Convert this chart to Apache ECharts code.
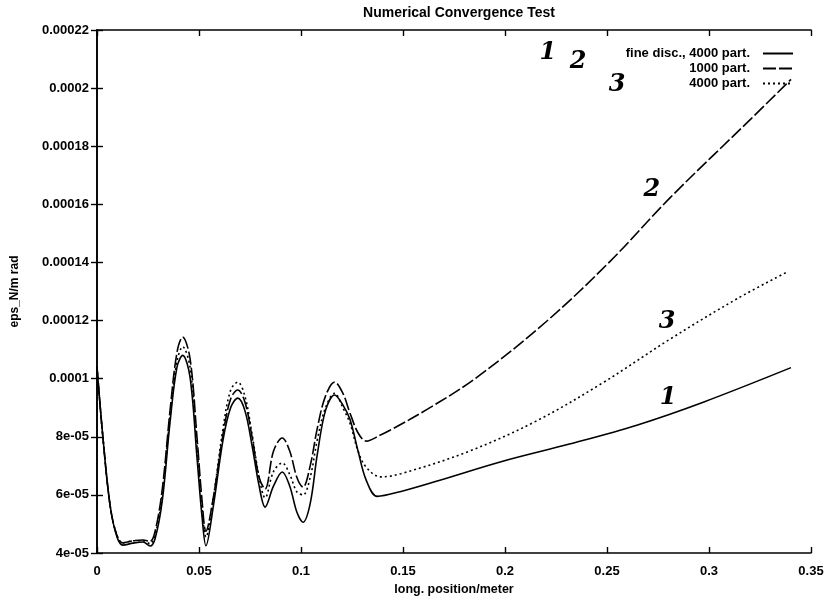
<!DOCTYPE html>
<html>
<head>
<meta charset="utf-8">
<script src="https://cdn.jsdelivr.net/npm/echarts@6/dist/echarts.min.js"></script>
<style>html,body{margin:0;padding:0;background:#fff}#c{width:831px;height:602px}</style>
</head>
<body>
<div id="c"></div>
<script>
// ---- data ----
var seriesNames = ['fine disc., 4000 part.', '1000 part.', '4000 part.'];

// common x positions over the oscillating region (m)
var xOsc = [0, 0.003, 0.0065, 0.0098, 0.0127, 0.0176, 0.0225, 0.026, 0.0285, 0.032, 0.0358, 0.0392, 0.042, 0.0456, 0.049, 0.0515, 0.0534, 0.057, 0.0618, 0.0655, 0.069, 0.0725, 0.076, 0.0795, 0.0824, 0.0865, 0.0908, 0.0945, 0.098, 0.101, 0.1045, 0.108, 0.112, 0.1165, 0.1205, 0.124, 0.128, 0.132];

// curve 1: fine disc., 4000 part. (solid)
var y1Osc = [10.4e-5, 7.9e-5, 5.6e-5, 4.55e-5, 4.27e-5, 4.34e-5, 4.38e-5, 4.24e-5, 4.5e-5, 5.8e-5, 8.5e-5, 10.4e-5, 10.8e-5, 10.05e-5, 7.3e-5, 5.24e-5, 4.25e-5, 5.6e-5, 7.9e-5, 9.0e-5, 9.33e-5, 8.9e-5, 7.7e-5, 6.3e-5, 5.58e-5, 6.3e-5, 6.79e-5, 6.3e-5, 5.4e-5, 5.06e-5, 5.7e-5, 7.4e-5, 8.9e-5, 9.44e-5, 9.1e-5, 8.6e-5, 7.5e-5, 6.5e-5];
var x1Tail = [0.1374, 0.149, 0.1655, 0.1985, 0.2316, 0.2646, 0.2975, 0.3402];
var y1Tail = [5.95e-5, 6.12e-5, 6.45e-5, 7.15e-5, 7.75e-5, 8.4e-5, 9.2e-5, 10.38e-5];

// curve 2: 1000 part. (dashed)
var y2Osc = [10.4e-5, 7.9e-5, 5.6e-5, 4.6e-5, 4.35e-5, 4.42e-5, 4.45e-5, 4.4e-5, 4.75e-5, 6.2e-5, 8.9e-5, 10.9e-5, 11.43e-5, 10.7e-5, 8.0e-5, 5.8e-5, 4.75e-5, 5.9e-5, 8.1e-5, 9.3e-5, 9.61e-5, 9.2e-5, 8.0e-5, 6.6e-5, 6.2e-5, 7.5e-5, 7.96e-5, 7.5e-5, 6.6e-5, 6.27e-5, 7.0e-5, 8.3e-5, 9.4e-5, 9.88e-5, 9.5e-5, 8.82e-5, 8.13e-5, 7.85e-5];
var x2Tail = [0.1387, 0.1441, 0.162, 0.1853, 0.22, 0.2514, 0.2811, 0.3207, 0.3402];
var y2Tail = [8.05e-5, 8.24e-5, 8.95e-5, 10.0e-5, 11.95e-5, 14.03e-5, 16.24e-5, 18.95e-5, 20.3e-5];

// curve 3: 4000 part. (dotted)
var y3Osc = [10.4e-5, 7.9e-5, 5.6e-5, 4.6e-5, 4.35e-5, 4.42e-5, 4.42e-5, 4.32e-5, 4.6e-5, 6.0e-5, 8.7e-5, 10.6e-5, 11.1e-5, 10.4e-5, 7.7e-5, 5.5e-5, 4.55e-5, 5.9e-5, 8.3e-5, 9.6e-5, 9.88e-5, 9.4e-5, 8.1e-5, 6.6e-5, 5.9e-5, 6.8e-5, 7.1e-5, 6.7e-5, 6.1e-5, 6.0e-5, 6.6e-5, 7.9e-5, 9.0e-5, 9.5e-5, 9.0e-5, 8.47e-5, 7.5e-5, 6.95e-5];
var x3Tail = [0.1391, 0.149, 0.182, 0.215, 0.248, 0.2811, 0.314, 0.3388];
var y3Tail = [6.62e-5, 6.73e-5, 7.49e-5, 8.53e-5, 9.86e-5, 11.37e-5, 12.76e-5, 13.69e-5];

// axis ticks
var xTickLabels = ['0', '0.05', '0.1', '0.15', '0.2', '0.25', '0.3', '0.35'];
var yTickLabels = ['4e-05', '6e-05', '8e-05', '0.0001', '0.00012', '0.00014', '0.00016', '0.00018', '0.0002', '0.00022'];

// hand-written annotations: [text, x, y] in data units
var notes = [['1', 0.221, 21.2e-5], ['2', 0.2358, 20.9e-5], ['3', 0.2549, 20.1e-5], ['2', 0.272, 16.49e-5], ['3', 0.2794, 11.95e-5], ['1', 0.28, 9.33e-5]];

// ---- build ----
function pairs(xs, ys) { var o = []; for (var i = 0; i < xs.length; i++) o.push([xs[i], ys[i]]); return o; }
var d1 = pairs(xOsc, y1Osc).concat(pairs(x1Tail, y1Tail));
var d2 = pairs(xOsc, y2Osc).concat(pairs(x2Tail, y2Tail));
var d3 = pairs(xOsc, y3Osc).concat(pairs(x3Tail, y3Tail));

var FONT = 'Liberation Sans';
var chart = echarts.init(document.getElementById('c'), null, {renderer: 'canvas'});

function lineSeries(name, data, type) {
  return {
    name: name, type: 'line', data: data, smooth: 0.35,
    symbol: 'none', showSymbol: false, animation: false, silent: true,
    lineStyle: {color: '#000', width: 1.6, type: type},
    itemStyle: {color: '#000'}
  };
}

var axisCommon = {
  axisLine: {show: true, lineStyle: {color: '#000', width: 1.6}},
  axisTick: {show: true, inside: true, length: 6, lineStyle: {color: '#000', width: 1.4}},
  splitLine: {show: false}
};

var option = {
  backgroundColor: '#fff',
  animation: false,
  title: {
    text: 'Numerical Convergence Test', left: 454, top: 1, textAlign: 'center',
    textStyle: {fontFamily: FONT, fontSize: 14, fontWeight: 'bold', color: '#000'}
  },
  legend: {
    orient: 'vertical', align: 'right', right: 32, top: 42,
    itemWidth: 30, itemHeight: 14, itemGap: 2,
    data: seriesNames,
    itemStyle: {opacity: 0},
    textStyle: {fontFamily: FONT, fontSize: 13, fontWeight: 'bold', color: '#000', padding: [0, 8, 0, 0]}
  },
  grid: {left: 97, right: 20, top: 30, bottom: 49, containLabel: false, outerBoundsMode: 'none'},
  xAxis: [
    Object.assign({
      type: 'value', min: 0, max: 0.35, interval: 0.05, position: 'bottom',
      name: 'long. position/meter', nameLocation: 'middle', nameGap: 27,
      nameTextStyle: {fontFamily: FONT, fontSize: 12.5, fontWeight: 'bold', color: '#000'},
      axisLabel: {margin: 12, fontFamily: FONT, fontSize: 13, fontWeight: 'bold', color: '#000',
        formatter: function (v) { return xTickLabels[Math.round(v / 0.05)]; }}
    }, axisCommon),
    Object.assign({
      type: 'value', min: 0, max: 0.35, interval: 0.05, position: 'top',
      axisLabel: {show: false}
    }, axisCommon)
  ],
  yAxis: [
    Object.assign({
      type: 'value', min: 4e-5, max: 22e-5, interval: 2e-5, position: 'left',
      name: 'eps_N/m rad', nameLocation: 'middle', nameGap: 76, nameRotate: 90,
      nameTextStyle: {fontFamily: FONT, fontSize: 12, fontWeight: 'bold', color: '#000'},
      axisLabel: {margin: 8, fontFamily: FONT, fontSize: 13, fontWeight: 'bold', color: '#000',
        formatter: function (v) { return yTickLabels[Math.round((v - 4e-5) / 2e-5)]; }}
    }, axisCommon),
    Object.assign({
      type: 'value', min: 4e-5, max: 22e-5, interval: 2e-5, position: 'right',
      axisLabel: {show: false}
    }, axisCommon)
  ],
  series: [
    lineSeries(seriesNames[0], d1, 'solid'),
    lineSeries(seriesNames[1], d2, [13, 3]),
    lineSeries(seriesNames[2], d3, [2, 3])
  ]
};
chart.setOption(option);

// hand-written digit annotations placed through the chart's own scales
var g = notes.map(function (n) {
  var p = chart.convertToPixel({xAxisIndex: 0, yAxisIndex: 0}, [n[1], n[2]]);
  return {
    type: 'text', x: p[0], y: p[1], silent: true,
    style: {text: n[0], x: 0, y: 0, align: 'center', verticalAlign: 'middle',
      font: 'italic bold 24px "DejaVu Serif"', fill: '#000'}
  };
});
chart.setOption({graphic: g});
</script>
</body>
</html>
